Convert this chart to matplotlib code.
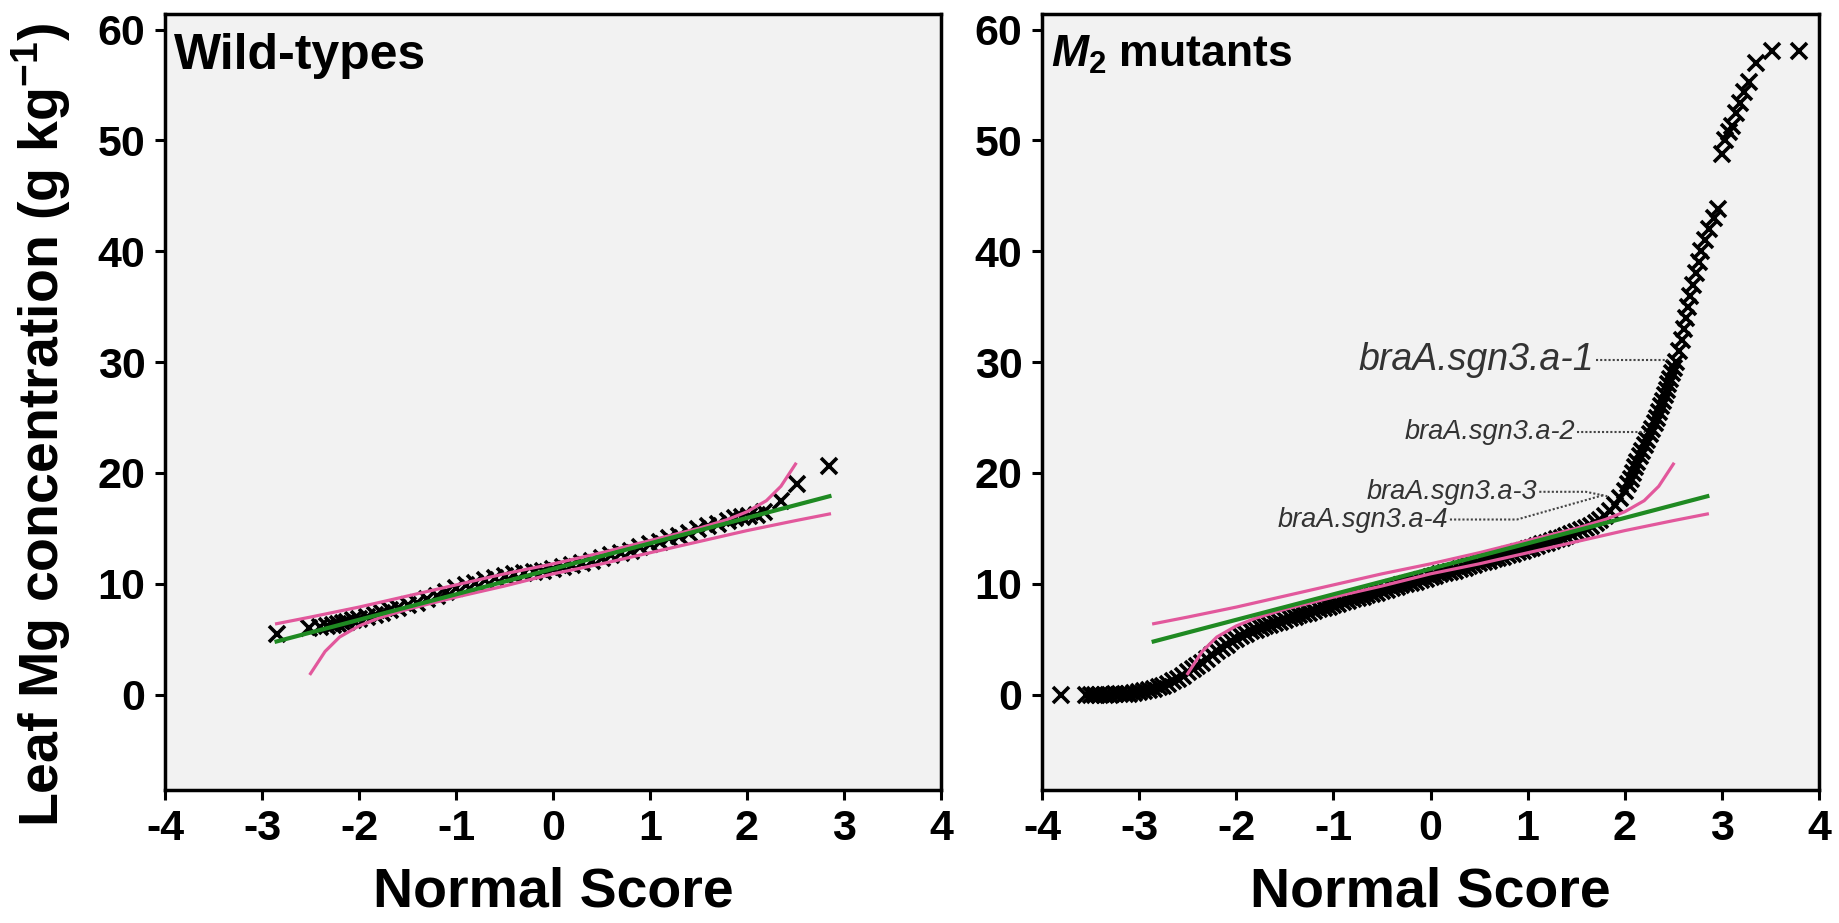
import numpy as np
import matplotlib
matplotlib.use("Agg")
import matplotlib.pyplot as plt

plt.rcParams['font.family'] = ['Liberation Sans', 'DejaVu Sans']
plt.rcParams['font.weight'] = 'bold'
plt.rcParams['axes.unicode_minus'] = False
plt.rcParams['mathtext.fontset'] = 'custom'
plt.rcParams['mathtext.rm'] = 'Liberation Sans:bold'
plt.rcParams['mathtext.bf'] = 'Liberation Sans:bold'
plt.rcParams['mathtext.it'] = 'Liberation Sans:italic:bold'

# ---- data ----
# wild-type normal scores / leaf Mg (g/kg)
wt_score = [-2.85, -2.52, -2.40, -2.33, -2.27, -2.22, -2.17, -2.12, -2.06, -2.00,
            -1.92, -1.84, -1.76, -1.68, -1.60, -1.50, -1.40, -1.30, -1.20, -1.10,
            -1.00, -0.90, -0.80, -0.70, -0.60, -0.50, -0.40, -0.30, -0.20, -0.10,
            0.00, 0.10, 0.20, 0.30, 0.40, 0.50, 0.60, 0.70, 0.80, 0.90,
            1.00, 1.10, 1.20, 1.30, 1.40, 1.50, 1.60, 1.70, 1.80, 1.88,
            1.95, 2.02, 2.10, 2.18, 2.35, 2.52, 2.85]
wt_mg = [5.5, 6.0, 6.1, 6.2, 6.3, 6.4, 6.5, 6.6, 6.7, 6.8,
         7.0, 7.2, 7.4, 7.6, 7.8, 8.1, 8.3, 8.6, 8.9, 9.3,
         9.6, 9.9, 10.1, 10.3, 10.5, 10.7, 10.9, 11.0, 11.1, 11.2,
         11.3, 11.5, 11.7, 11.9, 12.1, 12.3, 12.6, 12.8, 13.0, 13.3,
         13.6, 13.8, 14.1, 14.3, 14.6, 14.9, 15.2, 15.4, 15.7, 15.9,
         16.0, 16.1, 16.2, 16.5, 17.5, 19.0, 20.6]

# M2 mutants
m2_score = [-3.80, -3.55, -3.50,
            -3.45, -3.40, -3.35, -3.30, -3.25, -3.20, -3.15, -3.10, -3.05, -3.00,
            -2.95, -2.90, -2.85, -2.80, -2.75, -2.70, -2.65, -2.60, -2.55, -2.50,
            -2.45, -2.40, -2.35, -2.30, -2.25, -2.20, -2.15, -2.10, -2.05, -2.00,
            -1.95, -1.90, -1.85, -1.80, -1.75, -1.70, -1.65, -1.60, -1.55, -1.50,
            -1.45, -1.40, -1.35, -1.30, -1.25, -1.20, -1.15, -1.10, -1.05, -1.00,
            -0.95, -0.90, -0.85, -0.80, -0.75, -0.70, -0.65, -0.60, -0.55, -0.50,
            -0.45, -0.40, -0.35, -0.30, -0.25, -0.20, -0.15, -0.10, -0.05, 0.00,
            0.05, 0.10, 0.15, 0.20, 0.25, 0.30, 0.35, 0.40, 0.45, 0.50,
            0.55, 0.60, 0.65, 0.70, 0.75, 0.80, 0.85, 0.90, 0.95, 1.00,
            1.05, 1.10, 1.15, 1.20, 1.25, 1.30, 1.35, 1.40, 1.45, 1.50,
            1.55, 1.60, 1.65, 1.70, 1.75, 1.80, 1.85, 1.90, 1.95, 2.00,
            2.03, 2.06, 2.08, 2.11, 2.13, 2.16, 2.18, 2.21, 2.23, 2.26,
            2.28, 2.31, 2.33, 2.35, 2.37, 2.39, 2.41, 2.43, 2.45, 2.47,
            2.49, 2.51, 2.53, 2.56, 2.59, 2.61, 2.63, 2.65, 2.67, 2.70,
            2.73, 2.76, 2.79, 2.83, 2.87, 2.92, 2.96,
            3.00, 3.03, 3.07, 3.10, 3.15, 3.19, 3.23, 3.28, 3.35, 3.52, 3.79]
m2_mg = [0.0, 0.0, 0.0,
         0.0, 0.0, 0.0, 0.0, 0.05, 0.05, 0.1, 0.1, 0.15, 0.25,
         0.3, 0.4, 0.5, 0.65, 0.8, 1.0, 1.2, 1.45, 1.7, 2.0,
         2.3, 2.6, 2.9, 3.2, 3.55, 3.9, 4.2, 4.5, 4.8, 5.05,
         5.3, 5.5, 5.7, 5.85, 6.0, 6.15, 6.3, 6.45, 6.6, 6.75,
         6.9, 7.0, 7.15, 7.3, 7.4, 7.55, 7.7, 7.8, 7.95, 8.1,
         8.2, 8.35, 8.45, 8.6, 8.7, 8.85, 8.95, 9.1, 9.2, 9.35,
         9.45, 9.6, 9.7, 9.85, 9.95, 10.1, 10.2, 10.35, 10.45, 10.6,
         10.7, 10.85, 10.95, 11.1, 11.2, 11.35, 11.45, 11.6, 11.7, 11.85,
         11.95, 12.1, 12.2, 12.35, 12.45, 12.6, 12.7, 12.85, 12.95, 13.1,
         13.25, 13.4, 13.55, 13.7, 13.85, 14.0, 14.15, 14.3, 14.5, 14.65,
         14.85, 15.0, 15.25, 15.5, 15.75, 16.1, 16.6, 17.1, 17.7, 18.4,
         19.0, 19.5, 20.0, 20.5, 21.0, 21.5, 22.0, 22.5, 23.0, 23.5,
         24.0, 24.5, 25.0, 25.5, 26.0, 26.5, 27.0, 27.5, 28.0, 28.5,
         29.0, 29.5, 30.0, 31.0, 32.0, 33.0, 34.0, 35.0, 36.0, 37.0,
         38.0, 39.0, 40.0, 41.0, 42.0, 43.0, 43.8,
         48.8, 50.0, 50.8, 51.3, 52.5, 53.4, 54.4, 55.3, 57.0, 58.1, 58.1]

# wild-type fitted line and confidence bands (same in both panels)
fit_score = [-2.85, 2.85]
fit_mg = [4.8, 17.9]
upper_score = [-2.85, -2.5, -2.0, -1.5, -1.0, -0.5, 0.0, 0.5, 1.0, 1.5, 1.8, 2.0, 2.2, 2.35, 2.5]
upper_mg = [6.4, 7.0, 7.9, 8.9, 9.9, 10.9, 11.8, 12.8, 13.9, 15.0, 15.8, 16.5, 17.5, 18.8, 20.8]
lower_score = [-2.5, -2.35, -2.2, -2.0, -1.8, -1.5, -1.0, -0.5, 0.0, 0.5, 1.0, 1.5, 2.0, 2.5, 2.85]
lower_mg = [1.9, 3.9, 5.2, 6.2, 6.9, 7.7, 8.8, 9.8, 10.9, 11.8, 12.8, 13.8, 14.8, 15.7, 16.3]

# labelled mutants: name, text anchor, pointer path
labels = ['braA.sgn3.a-1', 'braA.sgn3.a-2', 'braA.sgn3.a-3', 'braA.sgn3.a-4']
label_size = [27, 19.5, 19.5, 19.5]
label_xy = [(1.68, 30.2), (1.49, 23.7), (1.10, 18.3), (0.18, 15.8)]
pointer_x = [[1.70, 2.44], [1.51, 2.21], [1.12, 1.60, 1.82], [0.20, 0.89, 1.78]]
pointer_y = [[30.2, 30.2], [23.7, 23.7], [18.3, 18.3, 17.9], [15.8, 15.8, 18.0]]

GREEN = '#1f8a22'
PINK = '#e2589c'
BG = '#f2f2f2'

fig = plt.figure(figsize=(18.4, 9.23), dpi=100)
ax1 = fig.add_axes([0.0897, 0.1441, 0.4217, 0.8407])
ax2 = fig.add_axes([0.5663, 0.1441, 0.4223, 0.8407])


def draw_panel(ax, xs, ys, title, title_size):
    ax.set_facecolor(BG)
    ax.plot(xs, ys, ls='none', marker='x', color='black', ms=11, mew=2.6, zorder=2)
    ax.plot(upper_score, upper_mg, color=PINK, lw=2.3, zorder=3)
    ax.plot(lower_score, lower_mg, color=PINK, lw=2.3, zorder=3)
    ax.plot(fit_score, fit_mg, color=GREEN, lw=3, zorder=4)
    ax.set_xlim(-4, 4)
    ax.set_ylim(-8.6, 61.4)
    ax.set_xticks(np.arange(-4, 5, 1))
    ax.set_yticks(np.arange(0, 61, 10))
    ax.tick_params(direction='out', length=7, width=2.2, labelsize=31, pad=7)
    for s in ax.spines.values():
        s.set_linewidth(2.5)
    ax.set_xlabel('Normal Score', fontsize=40, fontweight='bold', labelpad=12)
    ax.text(0.012, 0.975, title, transform=ax.transAxes, fontsize=title_size,
            fontweight='bold', ha='left', va='top')


draw_panel(ax1, wt_score, wt_mg, 'Wild-types', 36)
draw_panel(ax2, m2_score, m2_mg, r'$M_2$ mutants', 32)

for name, fs, (tx, ty), px, py in zip(labels, label_size, label_xy, pointer_x, pointer_y):
    ax2.text(tx, ty, name, fontsize=fs, fontstyle='italic', fontweight='normal',
             color='#333333', ha='right', va='center', zorder=5)
    ax2.plot(px, py, color='#444444', lw=1.5, ls=(0, (1, 1)), zorder=5)

fig.text(0.0223, 0.54, 'Leaf Mg concentration (g kg$^{-1}$)', rotation=90,
         fontsize=40, fontweight='bold', ha='center', va='center')

fig.savefig('out.png', dpi=100)
